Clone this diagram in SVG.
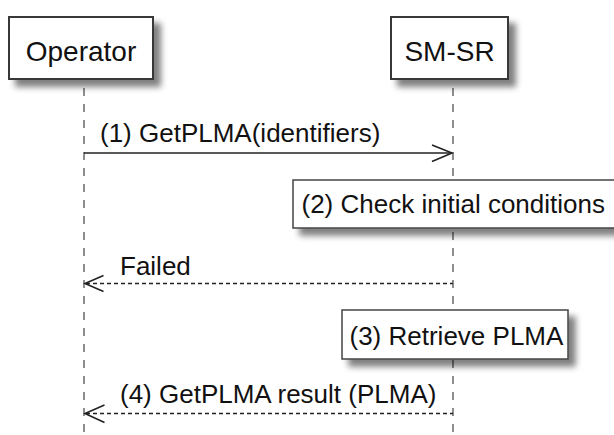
<svg xmlns="http://www.w3.org/2000/svg" width="614" height="435" viewBox="0 0 614 435">
<defs>
<filter id="sh" x="-20%" y="-20%" width="150%" height="160%">
<feGaussianBlur in="SourceAlpha" stdDeviation="3"/>
<feOffset dx="7" dy="7" result="b"/>
<feComponentTransfer><feFuncA type="linear" slope="0.5"/></feComponentTransfer>
<feMerge><feMergeNode/><feMergeNode in="SourceGraphic"/></feMerge>
</filter>
<style>
.box{fill:#fff;stroke:#383838;stroke-width:2}
.note{fill:#fff;stroke:#444;stroke-width:1.5}
.pt{font-family:"Liberation Sans",Arial,sans-serif;font-size:28px;fill:#111;text-anchor:middle}
.mt{font-family:"Liberation Sans",Arial,sans-serif;font-size:26px;fill:#111}
.life{stroke:#444;stroke-width:1.2;stroke-dasharray:8,8;fill:none}
.msg{stroke:#222;stroke-width:1.6;fill:none}
.dot{stroke:#222;stroke-width:1.4;fill:none;stroke-dasharray:4,3}
.head{stroke:#222;stroke-width:1.6;fill:none}
</style>
</defs>
<rect width="614" height="435" fill="#fff"/>
<g id="lifelines">
<line class="life" x1="84" y1="88" x2="84" y2="435"/>
<line class="life" x1="453" y1="88" x2="453" y2="435"/>
</g>
<g id="Operator">
<rect class="box" x="9" y="17" width="144" height="62" filter="url(#sh)"/>
<text class="pt" x="81" y="61">Operator</text>
</g>
<g id="SM-SR">
<rect class="box" x="391" y="17" width="117" height="62" filter="url(#sh)"/>
<text class="pt" x="449.5" y="61">SM-SR</text>
</g>
<g id="connectors">
<line class="msg" x1="84" y1="153" x2="452" y2="153"/>
<polyline class="head" points="432,145 452,153 432,161.5"/>
<text class="mt" x="100" y="142">(1) GetPLMA(identifiers)</text>
<line class="dot" x1="86" y1="283.5" x2="453" y2="283.5"/>
<polyline class="head" points="103.5,275.5 85,283.5 103.5,291.5"/>
<text class="mt" x="120" y="275">Failed</text>
<line class="dot" x1="86" y1="413.5" x2="453" y2="413.5"/>
<polyline class="head" points="104.5,405 85,413.5 104.5,422.5"/>
<text class="mt" x="120" y="403">(4) GetPLMA result (PLMA)</text>
</g>
<g id="note2">
<rect class="note" x="293" y="180" width="330" height="48" filter="url(#sh)"/>
<text class="mt" x="301.5" y="213">(2) Check initial conditions</text>
</g>
<g id="note3">
<rect class="note" x="342" y="310" width="226" height="49" filter="url(#sh)"/>
<text class="mt" x="349.5" y="345">(3) Retrieve PLMA</text>
</g>
</svg>
